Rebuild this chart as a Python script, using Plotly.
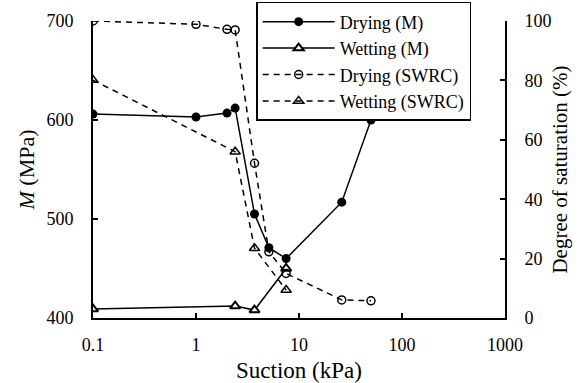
import plotly.graph_objects as go

# Data
dry_m_x = [0.1, 1.0, 2.0, 2.4, 3.7, 5.1, 7.5, 26, 50]
dry_m_y = [606, 603, 607, 612, 505, 471, 460, 517, 600]

wet_m_x = [0.1, 2.4, 3.7, 7.5]
wet_m_y = [409, 412, 408, 450]

dry_s_x = [0.1, 1.0, 2.0, 2.4, 3.7, 5.1, 7.5, 26, 50]
dry_s_y = [100, 98.9, 97.2, 97.0, 52.1, 22.3, 15.0, 6.1, 5.8]

wet_s_x = [0.1, 2.4, 3.7, 7.5]
wet_s_y = [80.1, 56.0, 23.5, 9.4]

x_ticks = [0.1, 1, 10, 100, 1000]
x_tick_text = ["0.1", "1", "10", "100", "1000"]

FONT = "Liberation Serif"
fig = go.Figure()

fig.add_trace(go.Scatter(x=wet_s_x, y=wet_s_y, name="Wetting (SWRC)", yaxis="y2",
                         mode="lines+markers",
                         line=dict(color="black", width=1.5, dash="6px,5px"),
                         marker=dict(symbol="triangle-up-open", size=9, color="black",
                                     line=dict(width=1.5, color="black"))))
fig.add_trace(go.Scatter(x=dry_s_x, y=dry_s_y, name="Drying (SWRC)", yaxis="y2",
                         mode="lines+markers",
                         line=dict(color="black", width=1.5, dash="6px,5px"),
                         marker=dict(symbol="circle-open", size=8, color="black",
                                     line=dict(width=1.5, color="black"))))
fig.add_trace(go.Scatter(x=wet_m_x, y=wet_m_y, name="Wetting (M)",
                         mode="lines+markers",
                         line=dict(color="black", width=1.5),
                         marker=dict(symbol="triangle-up", size=9, color="white",
                                     line=dict(width=2, color="black"))))
fig.add_trace(go.Scatter(x=dry_m_x, y=dry_m_y, name="Drying (M)",
                         mode="lines+markers",
                         line=dict(color="black", width=1.5),
                         marker=dict(symbol="circle", size=9, color="black")))

tick_font = dict(family=FONT, size=18, color="black")
leg_font = dict(family=FONT, size=18, color="black")
title_font = dict(family=FONT, size=22, color="black")

fig.update_layout(
    template="none",
    width=582, height=383,
    margin=dict(l=93, r=77, t=21, b=65, autoexpand=False),
    paper_bgcolor="white", plot_bgcolor="white",
    font=dict(family=FONT, size=18, color="black"),
    showlegend=True,
    legend=dict(x=0.396, y=1.064, xanchor="left", yanchor="top",
                traceorder="reversed", itemwidth=72,
                bordercolor="black", borderwidth=1.5, bgcolor="white",
                font=leg_font, tracegroupgap=0),
    xaxis=dict(type="log", range=[-1, 3], tickvals=x_ticks, ticktext=x_tick_text,
               ticks="inside", ticklen=5, tickwidth=1.5, tickcolor="black",
               showline=True, linecolor="black", linewidth=2, showgrid=False,
               zeroline=False, ticklabelstandoff=9, tickfont=tick_font,
               title=dict(text="Suction (kPa)", standoff=9,
                          font=dict(family=FONT, size=23, color="black"))),
    yaxis=dict(range=[400, 700], tickvals=[400, 500, 600, 700],
               ticks="inside", ticklen=5, tickwidth=1.5, tickcolor="black",
               showline=True, linecolor="black", linewidth=2, showgrid=False,
               zeroline=False, ticklabelstandoff=14, tickfont=tick_font,
               title=dict(text="<i>M</i> (MPa)", standoff=6, font=title_font)),
    yaxis2=dict(range=[0, 100], tickvals=[0, 20, 40, 60, 80, 100],
                overlaying="y", side="right",
                ticks="inside", ticklen=5, tickwidth=1.5, tickcolor="black",
                showline=True, linecolor="black", linewidth=2, showgrid=False,
                zeroline=False, ticklabelstandoff=14, tickfont=tick_font,
                title=dict(text="Degree of saturation (%)", standoff=2,
                           font=dict(family=FONT, size=21, color="black"))),
)

fig.write_html("out.html")
